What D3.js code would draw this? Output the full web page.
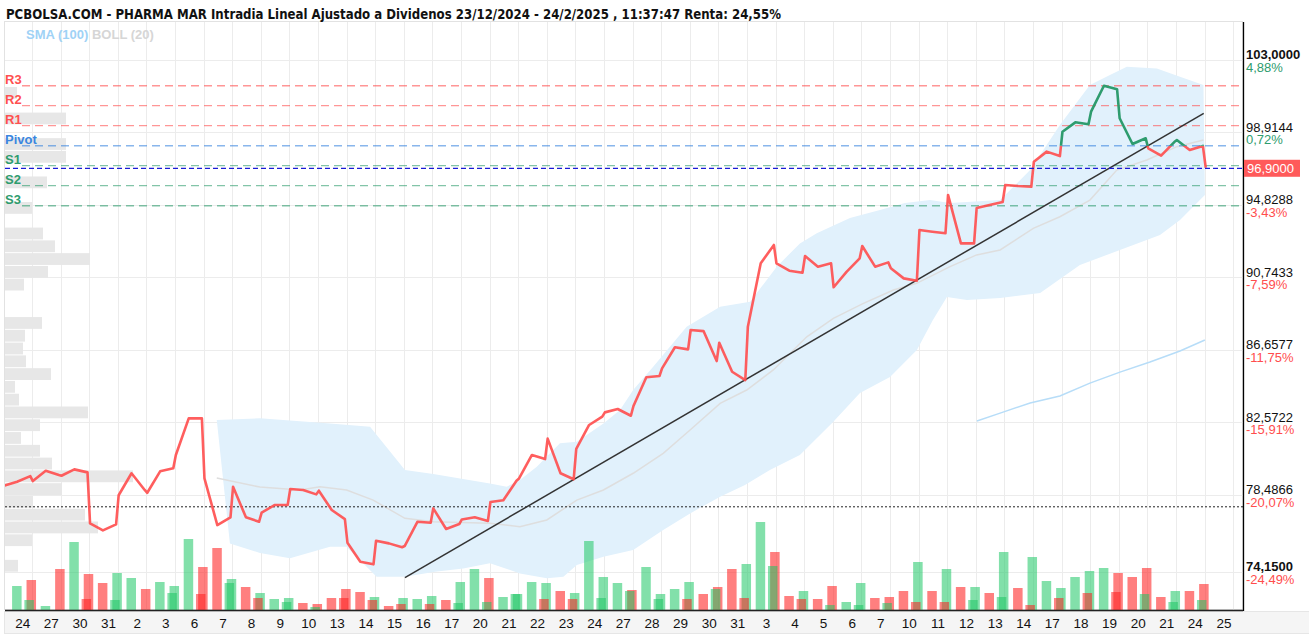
<!DOCTYPE html>
<html lang="es">
<head>
<meta charset="utf-8" />
<title>PHARMA MAR intradia</title>
<style>
  body { margin: 0; background: #fff; font-family: "Liberation Sans", Arial, sans-serif; }
  svg { display: block; }
</style>
</head>
<body>
<svg id="chart" width="1309" height="638"></svg>
<script src="https://cdn.jsdelivr.net/npm/d3@7/dist/d3.min.js"></script>
<script>
// ---- data ----
// one entry per session, first one (23 Dec) has no visible label
const dayLabels = ["23","24","27","30","31","2","3","6","7","8","9","10","13","14","15","16","17",
  "20","21","22","23","24","27","28","29","30","31","3","4","5","6","7","10","11","12","13","14",
  "17","18","19","20","21","24","25"];

// three samples per session: opening, midday, closing
const priceOpen = [78.99,79.25,79.55,76.87,78.45,78.59,80.72,79.40,78.93,77.47,78.80,78.71,75.78,75.89,
  75.59,77.71,77.09,78.07,79.40,81.64,81.06,83.12,83.48,85.60,87.76,87.04,87.95,91.52,91.93,90.17,
  92.49,91.24,93.39,95.37,94.63,95.93,97.24,98.93,100.06,99.69,98.00,98.46];
const priceMid = [79.21,79.83,79.91,76.47,79.69,79.80,82.78,76.77,77.21,77.90,78.75,77.62,74.71,75.74,
  76.96,76.55,77.21,78.17,80.72,79.69,82.41,83.31,85.10,86.79,87.70,85.41,91.52,91.10,91.33,91.04,
  91.33,90.67,93.30,92.64,94.80,95.87,97.81,99.46,101.52,98.24,97.58,97.90];
const priceClose = [79.53,79.59,79.74,76.81,78.75,79.97,82.78,77.21,76.96,77.90,78.50,77.11,74.56,75.52,
  76.90,76.83,77.00,79.27,80.49,79.35,82.88,82.93,85.17,86.67,86.01,84.94,92.55,90.99,91.52,91.80,
  91.57,90.54,93.21,92.64,94.97,95.83,97.56,99.35,101.32,98.56,98.35,98.13];
const lastPrice = 96.90;
const startPrice = 77.80;

// bollinger (20) band edges and middle, [session, price]
const bollUpper = [[7.46,82.69],[8.97,82.79],[11.42,82.50],[12.82,82.31],[14.04,79.87],[15.03,79.65],
  [17.01,79.12],[17.60,78.93],[18.06,79.31],[18.65,80.06],[19.46,81.38],[20.05,81.47],[20.98,82.50],
  [21.56,83.25],[22.02,84.38],[22.72,85.69],[23.89,87.95],[25.06,89.07],[26.11,89.35],[27.04,91.33],
  [27.85,92.64],[28.44,93.21],[29.60,94.07],[30.65,94.52],[31.52,94.91],[32.40,95.08],[33.10,94.91],
  [34.85,95.08],[35.90,96.77],[36.94,99.31],[37.99,101.56],[38.69,102.13],[39.28,102.59],
  [40.33,102.50],[41.14,102.03],[41.96,101.56]];
const bollLower = [[7.92,75.74],[8.97,75.20],[10.02,74.90],[11.42,75.55],[12.00,75.55],[13.05,73.86],
  [14.04,73.86],[15.09,74.14],[16.08,74.33],[17.01,74.62],[18.06,74.05],[19.00,73.77],[19.58,73.86],
  [20.05,74.52],[20.98,74.99],[22.02,75.37],[23.07,76.49],[24.01,77.43],[25.06,78.37],[25.93,79.03],
  [26.80,79.87],[27.85,80.72],[29.01,82.58],[29.95,84.21],[31.00,85.11],[31.94,86.63],[32.50,88.32],
  [32.99,89.62],[33.69,89.45],[34.85,89.56],[36.25,89.84],[37.64,91.42],[39.04,92.27],[40.44,93.11],
  [41.14,93.96],[42.01,95.37]];
const bollMid = [[7.46,79.42],[8.97,78.91],[10.37,78.75],[11.07,78.93],[12.00,78.75],[12.93,78.18],
  [14.04,77.15],[15.03,76.96],[17.01,76.87],[18.06,76.68],[19.00,77.06],[20.05,78.18],[20.98,78.75],
  [22.02,79.69],[23.07,80.81],[24.01,82.13],[25.06,83.63],[25.99,84.38],[26.92,85.51],[28.09,87.38],
  [29.02,88.42],[30.07,89.26],[31.12,90.01],[31.93,90.39],[33.10,91.33],[34.03,91.99],[34.85,92.27],
  [36.01,93.49],[36.94,94.14],[37.99,95.08],[38.93,96.77],[39.98,97.34],[41.03,98.09],[41.96,98.46]];
const sma100 = [[34.04,82.63],[34.85,83.08],[35.90,83.65],[36.94,84.04],[37.99,84.77],[39.04,85.39],
  [40.09,85.96],[41.14,86.58],[42.01,87.20]];

// support / resistance levels
const pivotNames = ["R3","R2","R1","Pivot","S1","S2","S3"];
const pivotValues = [101.52,100.40,99.27,98.14,97.02,95.89,94.76];
const pivotColors = ["#ff5050","#ff5050","#ff5050","#3a86e0","#2e9c6e","#2e9c6e","#2e9c6e"];

// trend line, two anchor points [session, price]
const trendLine = [[14.04,73.81],[41.97,99.97]];

// volume, two bars per session (positive = up / green, negative = down / red), thousands
const volumes = [24,-30,4,-41,68,-36,-27,37,32,-21,28,24,71,-43,-62,31,-23,17,11,12,-7,-6,-12,-21,
  -18,13,-4,12,11,14,-10,28,41,-32,13,16,28,27,-19,17,69,33,27,-20,43,16,21,28,-16,-23,-41,46,
  88,-58,-14,19,-11,-24,8,27,-12,-13,-19,48,-19,41,-23,23,-17,58,-22,53,29,22,33,39,42,-37,
  -33,-42,-13,19,-19,-26];
// closing auction volume, [bar index, signed volume]
const volAuction = [[1,10],[5,-11],[7,10],[11,17],[13,-16],[15,27],[17,-12],[19,8],[21,3],[23,-12],
  [25,-10],[27,-6],[29,-6],[31,7],[33,8],[35,16],[37,-11],[39,-11],[41,12],[43,19],[45,11],[47,-11],
  [49,21],[51,-12],[53,44],[55,-11],[57,5],[59,5],[61,7],[63,-8],[65,-8],[67,10],[69,13],[71,-5],
  [73,-12],[75,-17],[77,-18],[79,16],[81,8],[83,10]];

// volume by price (left histogram), rows from the top price down
const profileTop = 101.45;
const profileStep = 0.72;
const profileVolume = [12,0,61,0,61,61,0,42,0,27,0,38,50,85,43,19,0,0,37,20,18,21,46,10,14,83,35,16,
  35,47,128,57,28,80,93,27,0,13];

// right axis
const yTicks = [103.0000,98.9144,94.8288,90.7433,86.6577,82.5722,78.4866,74.1500];
const yTickPct = ["4,88%","0,72%","-3,43%","-7,59%","-11,75%","-15,91%","-20,07%","-24,49%"];

const titleText = "PCBOLSA.COM - PHARMA MAR Intradia Lineal Ajustado a Dividenos 23/12/2024 - 24/2/2025 , 11:37:47 Renta: 24,55%";

// ---- drawing ----
const W = 1309, H = 638;
const plot = { left: 5, right: 1243, top: 22, bottom: 610 };
const GREEN = "#2e9c6e", RED = "#ff4d4d";

const es = d3.formatLocale({ decimal: ",", thousands: ".", grouping: [3], currency: ["", "€"] });
const fmt4 = es.format(".4f");

const x = d3.scaleLinear().domain([0, 43]).range([3.4, 3.4 + 28.6 * 43]);
const y = d3.scaleLinear().domain([74.15, 103]).range([571.6, 59.5]);
const yVol = d3.scaleLinear().domain([0, 90]).range([plot.bottom, plot.bottom - 90]);
const xProf = d3.scaleLinear().domain([0, 128]).range([0, 128]);

const svg = d3.select("#chart");
const defs = svg.append("defs");
defs.append("clipPath").attr("id", "plotClip").append("rect")
  .attr("x", plot.left).attr("y", plot.top)
  .attr("width", plot.right - plot.left).attr("height", plot.bottom - plot.top);
defs.append("clipPath").attr("id", "abovePivot").append("rect")
  .attr("x", 0).attr("y", 0).attr("width", W).attr("height", y(pivotValues[3]));
defs.append("clipPath").attr("id", "belowPivot").append("rect")
  .attr("x", 0).attr("y", y(pivotValues[3])).attr("width", W).attr("height", H);

// label band under the plot
svg.append("rect").attr("x", 4.5).attr("y", 611.5).attr("width", W - 4).attr("height", 22)
  .attr("fill", "#f5f5f5").attr("stroke", "#e6e6e6");

// plot frame
svg.append("rect").attr("x", plot.left - 0.5).attr("y", plot.top - 0.5)
  .attr("width", plot.right - plot.left).attr("height", plot.bottom - plot.top)
  .attr("fill", "none").attr("stroke", "#e2e2e2");

const g = svg.append("g").attr("clip-path", "url(#plotClip)");

// grid
g.append("g").selectAll("line").data(yTicks).join("line")
  .attr("x1", plot.left).attr("x2", plot.right)
  .attr("y1", d => Math.round(y(d)) + 0.5).attr("y2", d => Math.round(y(d)) + 0.5)
  .attr("stroke", "#ececec");
g.append("g").selectAll("line").data(d3.range(1, 44)).join("line")
  .attr("x1", d => Math.round(x(d)) + 0.5).attr("x2", d => Math.round(x(d)) + 0.5)
  .attr("y1", plot.top).attr("y2", plot.bottom)
  .attr("stroke", "#ececec");

// volume by price
g.append("g").selectAll("rect")
  .data(profileVolume.map((v, i) => ({ v, i })).filter(d => d.v > 0))
  .join("rect")
  .attr("x", plot.left)
  .attr("y", d => y(profileTop - profileStep * d.i))
  .attr("width", d => xProf(d.v))
  .attr("height", d => y(profileTop - profileStep * (d.i + 1)) - y(profileTop - profileStep * d.i) - 1)
  .attr("fill", "#e7e7e7");

// bollinger band
const line = d3.line().x(d => x(d[0])).y(d => y(d[1]));
g.append("path")
  .attr("d", line(bollUpper.concat(bollLower.slice().reverse())) + "Z")
  .attr("fill", "#e1f1fc");
g.append("path").attr("d", line(bollMid))
  .attr("fill", "none").attr("stroke", "#dedede").attr("stroke-width", 1.5);
g.append("path").attr("d", line(sma100))
  .attr("fill", "none").attr("stroke", "#b7ddf8").attr("stroke-width", 1.5);

// volume bars
const barT = i => Math.floor(i / 2) + (i % 2 ? 0.975 : 0.47);
g.append("g").selectAll("rect").data(volumes).join("rect")
  .attr("x", (d, i) => x(barT(i)) - 4.75)
  .attr("width", 9.5)
  .attr("y", d => yVol(Math.abs(d)))
  .attr("height", d => plot.bottom - yVol(Math.abs(d)))
  .attr("fill", d => d >= 0 ? "#2ecc71" : "#ff2a2a")
  .attr("fill-opacity", 0.6);
g.append("g").selectAll("rect").data(volAuction).join("rect")
  .attr("x", d => x(Math.floor(d[0] / 2) + 0.9) - 4.75)
  .attr("width", 9.5)
  .attr("y", d => yVol(Math.abs(d[1])))
  .attr("height", d => plot.bottom - yVol(Math.abs(d[1])))
  .attr("fill", d => d[1] >= 0 ? "#1fc764" : "#ff1f1f")
  .attr("fill-opacity", 0.55);

// pivot levels
g.append("g").selectAll("line").data(pivotValues).join("line")
  .attr("x1", 22).attr("x2", plot.right)
  .attr("y1", d => y(d)).attr("y2", d => y(d))
  .attr("stroke", (d, i) => pivotColors[i]).attr("stroke-opacity", 0.6)
  .attr("stroke-width", 1.3).attr("stroke-dasharray", "8,5");

// start price (dotted)
g.append("line")
  .attr("x1", plot.left).attr("x2", plot.right)
  .attr("y1", y(startPrice)).attr("y2", y(startPrice))
  .attr("stroke", "#222").attr("stroke-width", 1).attr("stroke-dasharray", "2,2");

// trend line
g.append("path").attr("d", line(trendLine))
  .attr("stroke", "#333").attr("stroke-width", 1.5).attr("fill", "none");

// price line
const pricePts = [];
priceOpen.forEach((o, d) => {
  pricePts.push([d + 0.03, o], [d + 0.48, priceMid[d]], [d + 0.94, priceClose[d]]);
});
pricePts.push([42.04, lastPrice]);
g.append("path").attr("d", line(pricePts)).attr("clip-path", "url(#belowPivot)")
  .attr("fill", "none").attr("stroke", RED).attr("stroke-width", 2.6)
  .attr("stroke-linejoin", "round").attr("stroke-opacity", 0.9);
g.append("path").attr("d", line(pricePts)).attr("clip-path", "url(#abovePivot)")
  .attr("fill", "none").attr("stroke", GREEN).attr("stroke-width", 2.6)
  .attr("stroke-linejoin", "round");

// current price
g.append("line")
  .attr("x1", plot.left).attr("x2", plot.right)
  .attr("y1", y(lastPrice) + 0.5).attr("y2", y(lastPrice) + 0.5)
  .attr("stroke", "#1a1ad6").attr("stroke-width", 1.3).attr("stroke-dasharray", "5,3");

// pivot labels
svg.append("g").selectAll("text").data(pivotNames).join("text")
  .attr("x", 5).attr("y", (d, i) => y(pivotValues[i]) - 2)
  .attr("fill", (d, i) => pivotColors[i])
  .attr("font-size", 13).attr("font-weight", "bold")
  .text(d => d);

// axes lines
svg.append("line").attr("x1", plot.right + 0.5).attr("x2", plot.right + 0.5)
  .attr("y1", plot.top).attr("y2", plot.bottom + 1).attr("stroke", "#000").attr("stroke-width", 1.3);
svg.append("line").attr("x1", plot.left).attr("x2", plot.right)
  .attr("y1", plot.bottom + 0.5).attr("y2", plot.bottom + 0.5).attr("stroke", "#222").attr("stroke-width", 1.3);

// right axis
const yAxis = svg.append("g").attr("transform", `translate(${plot.right},0)`)
  .call(d3.axisRight(y).tickValues(yTicks).tickSize(0).tickPadding(3).tickFormat(fmt4));
yAxis.select(".domain").remove();
yAxis.selectAll("text")
  .attr("dy", -1)
  .attr("font-family", "'Liberation Sans', Arial, sans-serif")
  .attr("font-size", 13)
  .attr("fill", "#111")
  .attr("font-weight", (d, i) => (i === 0 || i === yTicks.length - 1) ? "bold" : "normal");
yAxis.selectAll(".tick").append("text")
  .attr("x", 3).attr("dy", 11.5)
  .attr("font-family", "'Liberation Sans', Arial, sans-serif")
  .attr("font-size", 13)
  .attr("fill", (d, i) => yTickPct[i].startsWith("-") ? RED : GREEN)
  .text((d, i) => yTickPct[i]);

// current price tag
const tag = svg.append("g").attr("transform", `translate(${plot.right + 1},${y(lastPrice)})`);
tag.append("rect").attr("x", 0).attr("y", -8).attr("width", 56).attr("height", 17).attr("fill", "#ff5a5a");
tag.append("text").attr("x", 3).attr("y", 5.5).attr("fill", "#fff").attr("font-size", 13)
  .text(fmt4(lastPrice));

// bottom axis
const xAxis = svg.append("g").attr("transform", `translate(0,${plot.bottom})`)
  .call(d3.axisBottom(x)
    .tickValues(d3.range(1, dayLabels.length).map(d => d - 0.34))
    .tickSize(0)
    .tickFormat((d, i) => dayLabels[i + 1]));
xAxis.select(".domain").remove();
xAxis.selectAll("text")
  .attr("y", 0).attr("dy", 18)
  .attr("font-family", "'Liberation Sans', Arial, sans-serif")
  .attr("font-size", 13.5).attr("fill", "#111");

// title and legend
svg.append("text").attr("x", 6).attr("y", 18.5)
  .attr("font-family", "'Liberation Sans Narrow', 'DejaVu Sans Condensed', Arial, sans-serif")
  .attr("font-size", 14.5).attr("font-weight", "bold").attr("fill", "#111")
  .attr("textLength", 775).attr("lengthAdjust", "spacingAndGlyphs")
  .text(titleText);
const legend = svg.append("text").attr("x", 26).attr("y", 39).attr("font-size", 13).attr("font-weight", "bold");
legend.append("tspan").attr("fill", "#9fd2f6").text("SMA (100) ");
legend.append("tspan").attr("fill", "#d6d6d6").text("BOLL (20)");
</script>
</body>
</html>
